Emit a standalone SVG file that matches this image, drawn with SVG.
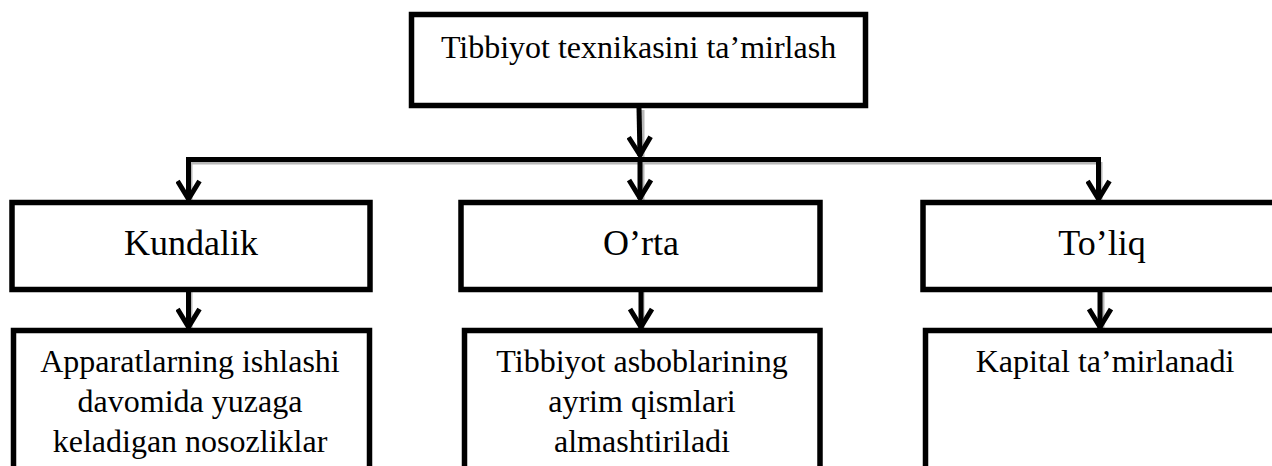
<svg xmlns="http://www.w3.org/2000/svg" width="1272" height="466" viewBox="0 0 1272 466">
<defs>
<style>
.box{fill:#fff;stroke:#000;stroke-width:5.5}
.t{font-family:"Liberation Serif","Times New Roman",serif;fill:#000;text-anchor:middle}
.s32{font-size:32px}
.s36{font-size:36px}
.ln{fill:none;stroke:#000;stroke-width:5;stroke-linejoin:miter}
.sh{fill:none;stroke:#9a9a9a;stroke-width:5;opacity:0.7}
</style>
<marker id="chev" viewBox="0 0 24 26" refX="21" refY="13" markerWidth="24" markerHeight="26" markerUnits="userSpaceOnUse" orient="auto">
<path d="M2 2 L20 13 L2 24" fill="none" stroke="#000" stroke-width="5"/>
</marker>
</defs>
<rect width="1272" height="466" fill="#fff"/>
<g id="connectors">
<path class="sh" d="M190 162 L1100 162 M642 110 L642 157 M190 162 L190 200 M642 162 L642 200 M1100 162 L1100 200 M190 292 L190 328 M642 292 L642 328 M1102 292 L1102 328"/>
<path class="ln" d="M188.5 202 L188.5 159.5 L1098.5 159.5 L1098.5 202"/>
<path class="ln" d="M639 108 L640 156" marker-end="url(#chev)"/>
<path class="ln" d="M640 160 L640 199" marker-end="url(#chev)"/>
<path class="ln" d="M188.5 185 L188.5 200" marker-end="url(#chev)"/>
<path class="ln" d="M1098.5 185 L1098.5 200" marker-end="url(#chev)"/>
<path class="ln" d="M188.5 291 L188.5 328" marker-end="url(#chev)"/>
<path class="ln" d="M641 291 L641 328" marker-end="url(#chev)"/>
<path class="ln" d="M1100 291 L1100 328" marker-end="url(#chev)"/>
</g>
<g id="root">
<rect class="box" x="411.5" y="14.5" width="454" height="91"/>
<text class="t s32" x="638.5" y="58">Tibbiyot texnikasini ta’mirlash</text>
</g>
<g id="kundalik">
<rect class="box" x="12" y="202.5" width="358" height="87"/>
<text class="t s36" x="191" y="255">Kundalik</text>
</g>
<g id="orta">
<rect class="box" x="461" y="202.5" width="359" height="87"/>
<text class="t s36" x="641" y="255">O’rta</text>
</g>
<g id="toliq">
<rect class="box" x="923" y="202.5" width="360" height="87"/>
<text class="t s36" x="1102" y="255">To’liq</text>
</g>
<g id="kundalik-desc">
<rect class="box" x="13.5" y="330.5" width="356" height="160"/>
<text class="t s32" x="190" y="372">Apparatlarning ishlashi</text>
<text class="t s32" x="190" y="412">davomida yuzaga</text>
<text class="t s32" x="190" y="452">keladigan nosozliklar</text>
</g>
<g id="orta-desc">
<rect class="box" x="464.5" y="330.5" width="355.5" height="160"/>
<text class="t s32" x="642" y="372">Tibbiyot asboblarining</text>
<text class="t s32" x="642" y="412">ayrim qismlari</text>
<text class="t s32" x="642" y="452">almashtiriladi</text>
</g>
<g id="toliq-desc">
<rect class="box" x="925.5" y="330.5" width="360" height="160"/>
<text class="t s32" x="1105" y="372">Kapital ta’mirlanadi</text>
</g>
</svg>
